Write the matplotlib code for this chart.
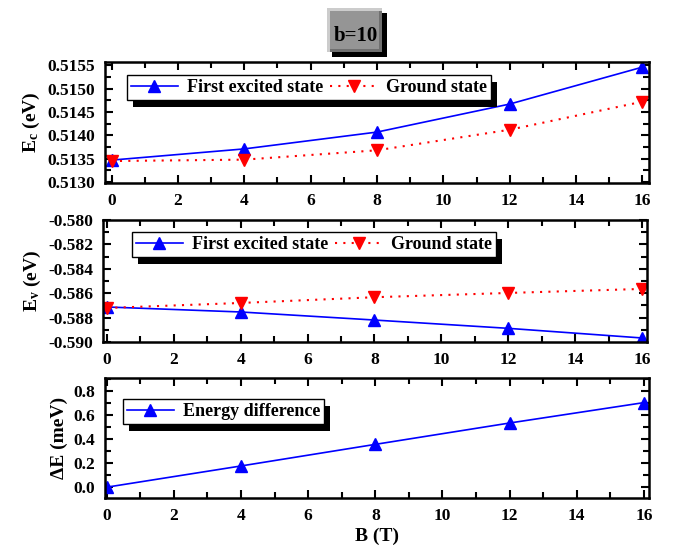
import matplotlib
matplotlib.use('Agg')
from matplotlib import pyplot as plt
from matplotlib.patches import Rectangle
from matplotlib.ticker import MultipleLocator, FormatStrFormatter

plt.rcParams['font.family'] = ['Liberation Serif', 'DejaVu Serif']
plt.rcParams['font.weight'] = 'bold'
plt.rcParams['axes.unicode_minus'] = False
plt.rcParams['mathtext.fontset'] = 'custom'
plt.rcParams['mathtext.rm'] = 'Liberation Serif:bold'
plt.rcParams['mathtext.it'] = 'Liberation Serif:bold'
plt.rcParams['mathtext.bf'] = 'Liberation Serif:bold'

# data
B = [0, 4, 8, 12, 16]
ec_excited = [0.51347, 0.51371, 0.51407, 0.51467, 0.51546]
ec_ground = [0.51345, 0.51348, 0.51368, 0.51412, 0.51472]
ev_excited = [-0.58713, -0.58754, -0.58820, -0.58888, -0.58967]
ev_ground = [-0.58721, -0.58680, -0.58633, -0.58598, -0.58565]
delta_e = [0.0, 0.177, 0.357, 0.535, 0.705]

W, H = 679, 552
fig = plt.figure(figsize=(W / 100, H / 100), dpi=100)


def px_axes(left, top, right, bottom):
    return fig.add_axes([left / W, 1 - bottom / H, (right - left) / W, (bottom - top) / H])


ax1 = px_axes(105, 62, 649, 183)
ax2 = px_axes(103, 220, 647, 342)
ax3 = px_axes(105, 378, 649, 498)

blue = dict(color='blue', marker='^', markersize=8.5, linewidth=1.2, linestyle='-')
red = dict(color='red', marker='v', markersize=8.5, linewidth=1.5, linestyle=(0, (1, 3)))

ax1.plot(B, ec_excited, label='First excited state', **blue)
ax1.plot(B, ec_ground, label='Ground state', **red)
ax2.plot(B, ev_excited, label='First excited state', **blue)
ax2.plot(B, ev_ground, label='Ground state', **red)
ax3.plot(B, delta_e, label='Energy difference', **blue)

ax1.set_xlim(-0.2, 16.2)
ax2.set_xlim(-0.12, 16.15)
ax3.set_xlim(-0.05, 16.15)
ax1.set_ylim(0.51298, 0.51557)
ax2.set_ylim(-0.590, -0.580)
ax3.set_ylim(-0.09, 0.91)

ax1.yaxis.set_major_locator(MultipleLocator(0.0005))
ax1.yaxis.set_minor_locator(MultipleLocator(0.00025))
ax1.yaxis.set_major_formatter(FormatStrFormatter('%.4f'))
ax2.yaxis.set_major_locator(MultipleLocator(0.002))
ax2.yaxis.set_minor_locator(MultipleLocator(0.001))
ax2.yaxis.set_major_formatter(FormatStrFormatter('%.3f'))
ax3.yaxis.set_major_locator(MultipleLocator(0.2))
ax3.yaxis.set_minor_locator(MultipleLocator(0.1))
ax3.yaxis.set_major_formatter(FormatStrFormatter('%.1f'))

for ax in (ax1, ax2, ax3):
    ax.xaxis.set_major_locator(MultipleLocator(2))
    ax.xaxis.set_minor_locator(MultipleLocator(1))
    ax.tick_params(which='both', direction='in', top=True, right=True, width=1.5,
                   labelsize=12.5, pad=7)
    ax.tick_params(which='major', length=6)
    ax.tick_params(which='minor', length=4)
    for s in ax.spines.values():
        s.set_linewidth(1.8)

ax1.set_ylabel(r'E$_\mathrm{c}$ (eV)', fontsize=14, fontweight='bold')
ax2.set_ylabel(r'E$_\mathrm{v}$ (eV)', fontsize=14, fontweight='bold')
ax3.set_ylabel('ΔE (meV)', fontsize=14, fontweight='bold')
ax3.set_xlabel('B (T)', fontsize=14, fontweight='bold', labelpad=3)

legs = []
for ax, anchor, ncol in ((ax1, (0.040, 0.893), 2), (ax2, (0.053, 0.902), 2), (ax3, (0.033, 0.825), 1)):
    leg = ax.legend(loc='upper left', bbox_to_anchor=anchor, borderaxespad=0, ncol=ncol,
                    prop={'size': 13, 'weight': 'bold'}, fancybox=False, framealpha=1,
                    edgecolor='black', handlelength=2.6, handletextpad=0.5,
                    columnspacing=0.4, borderpad=0.22)
    leg.get_frame().set_linewidth(1.0)
    legs.append((ax, leg))

# black box shadows behind legends
fig.canvas.draw()
for ax, leg in legs:
    bb = leg.get_frame().get_window_extent()
    bb = bb.translated(6, -7).transformed(ax.transAxes.inverted())
    ax.add_patch(Rectangle((bb.x0, bb.y0), bb.width, bb.height, transform=ax.transAxes,
                           facecolor='black', edgecolor='none', zorder=4.9, clip_on=False))

# "b=10" title box with bevel
def fig_rect(x, y, w, h, color):
    fig.patches.append(Rectangle((x / W, 1 - (y + h) / H), w / W, h / H,
                                 transform=fig.transFigure, facecolor=color,
                                 edgecolor='none'))

fig_rect(332, 13, 55, 44, 'black')
fig_rect(327, 8, 55, 44, '#cccccc')
fig_rect(330, 11, 52, 41, '#707070')
fig_rect(330, 11, 49, 38, '#959595')
fig.text(356 / W, 1 - 36 / H, 'b=10', ha='center', va='center', fontsize=15, fontweight='bold')

fig.savefig('out.png', dpi=100)
